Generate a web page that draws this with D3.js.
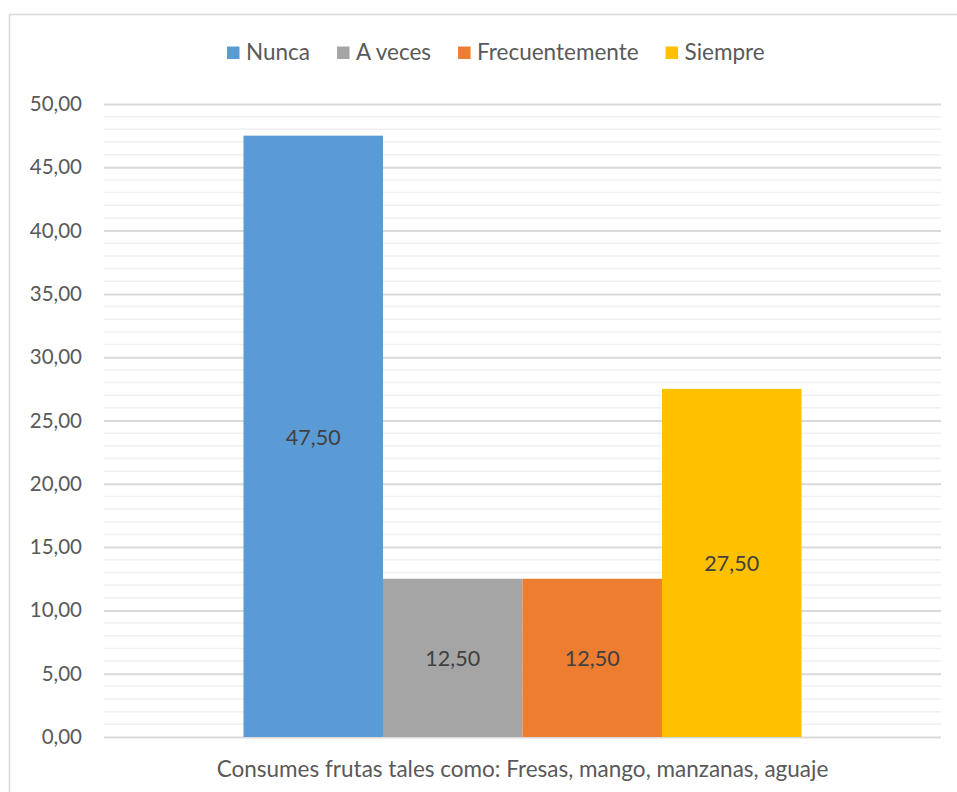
<!DOCTYPE html>
<html>
<head>
<meta charset="utf-8">
<script src="https://cdn.jsdelivr.net/npm/d3@7"></script>
<style>
  html, body { margin: 0; padding: 0; background: #fff; }
  svg { display: block; font-family: "Lato", "Open Sans", sans-serif; }
</style>
</head>
<body>
<svg id="chart" width="957" height="792"></svg>
<script>
// Survey answers for one question, percentage per response
const categories = ["Consumes frutas tales como: Fresas, mango, manzanas, aguaje"];
const series = ["Nunca", "A veces", "Frecuentemente", "Siempre"];
const values = [47.50, 12.50, 12.50, 27.50];
const colors = ["#5B9BD5", "#A5A5A5", "#ED7D31", "#FFC000"];
const yTicks = [0, 5, 10, 15, 20, 25, 30, 35, 40, 45, 50];

const svg = d3.select("#chart");
const fmt = v => d3.format(".2f")(v).replace(".", ",");
const textColor = "#595959";

const plot = { left: 104, right: 941, top: 104, bottom: 737 };

// Chart frame
svg.append("rect")
  .attr("x", 9.5).attr("y", 14.5)
  .attr("width", 1000).attr("height", 1000)
  .attr("fill", "#fff")
  .attr("stroke", "#D9D9D9").attr("stroke-width", 1.5);

const y = d3.scaleLinear().domain([0, 50]).range([plot.bottom, plot.top]);
const x0 = d3.scaleBand().domain(categories).range([plot.left, plot.right])
  .paddingInner(0).paddingOuter(0.25);
const x1 = d3.scaleBand().domain(series).range([0, x0.bandwidth()]).padding(0);

// Minor gridlines every 1 unit
const minor = d3.range(1, 50).filter(v => v % 5 !== 0);
svg.append("g").selectAll("line").data(minor).join("line")
  .attr("x1", plot.left).attr("x2", plot.right)
  .attr("y1", d => y(d)).attr("y2", d => y(d))
  .attr("stroke", "#F0F0F0").attr("stroke-width", 1.5);

// Major gridlines and tick labels
const yAxis = d3.axisLeft(y).tickValues(yTicks).tickFormat(fmt)
  .tickSize(-(plot.right - plot.left)).tickPadding(22);
const gy = svg.append("g").attr("transform", `translate(${plot.left},0)`).call(yAxis);
gy.select(".domain").remove();
gy.selectAll(".tick line").attr("stroke", "#D9D9D9").attr("stroke-width", 2);
gy.selectAll(".tick text")
  .attr("fill", textColor).attr("font-size", 20.5)
  .attr("font-family", "Lato, sans-serif");

// Bars
const g = svg.append("g").attr("transform", `translate(${x0(categories[0])},0)`);
g.selectAll("rect").data(series).join("rect")
  .attr("x", d => x1(d))
  .attr("y", (d, i) => y(values[i]))
  .attr("width", x1.bandwidth())
  .attr("height", (d, i) => y(0) - y(values[i]))
  .attr("fill", (d, i) => colors[i]);

// Value labels centred inside bars
g.selectAll("text.val").data(series).join("text")
  .attr("class", "val")
  .attr("x", d => x1(d) + x1.bandwidth() / 2)
  .attr("y", (d, i) => (y(values[i]) + y(0)) / 2 + 1)
  .attr("dy", "0.35em")
  .attr("text-anchor", "middle")
  .attr("fill", "#404040").attr("font-size", 21.5)
  .text((d, i) => fmt(values[i]));

// Category axis title
svg.append("text")
  .attr("x", x0(categories[0]) + x0.bandwidth() / 2)
  .attr("y", 777)
  .attr("text-anchor", "middle")
  .attr("fill", textColor).attr("font-size", 22.5)
  .text(categories[0]);

// Legend
const legend = svg.append("g").attr("transform", "translate(227,0)");
let lx = 0;
series.forEach((s, i) => {
  const item = legend.append("g").attr("transform", `translate(${lx},0)`);
  item.append("rect").attr("x", 0).attr("y", 46.5).attr("width", 12.5).attr("height", 12.5)
    .attr("fill", colors[i]);
  const t = item.append("text").attr("x", 19).attr("y", 52.5).attr("dy", "0.35em")
    .attr("fill", textColor).attr("font-size", 22.5).text(s);
  lx += 19 + t.node().getComputedTextLength() + 27;
});
</script>
</body>
</html>
